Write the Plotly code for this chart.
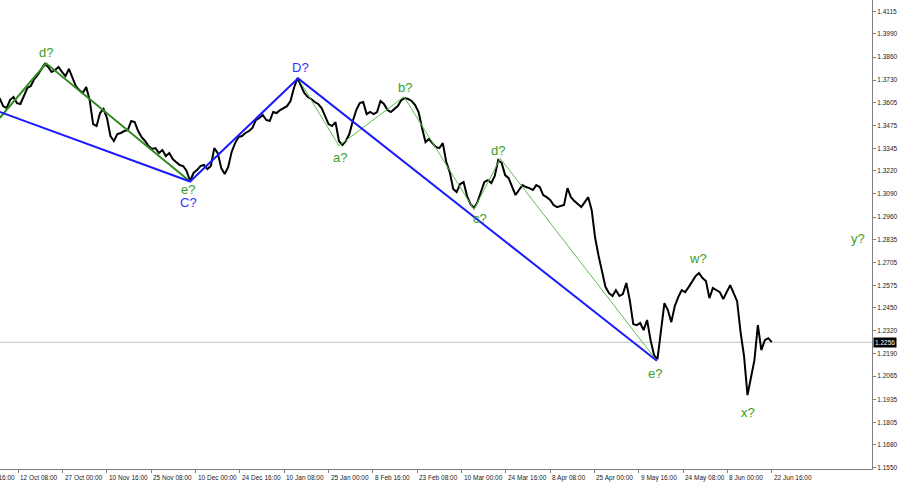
import plotly.graph_objects as go

# ---------------- data ----------------
# GBP/USD, H4 chart. x is the H4 bar index (bar 0 = 27 Sep 16:00),
# one sampled value every 5 bars.
price_start_bar = 37
price_step_bars = 5
gbpusd = [
    1.3629, 1.3584, 1.3573, 1.3618, 1.3635, 1.3601, 1.3596, 1.3646, 1.3686, 1.3697,
    1.3736, 1.3759, 1.3793, 1.3821, 1.3804, 1.3776, 1.3787, 1.3804, 1.3776, 1.3753,
    1.3793, 1.3742, 1.3697, 1.3674, 1.3658, 1.3691, 1.3618, 1.3483, 1.3472, 1.3545,
    1.3568, 1.3517, 1.3416, 1.3388, 1.3427, 1.3433, 1.3444, 1.3449, 1.3500, 1.3494,
    1.3444, 1.3410, 1.3388, 1.3359, 1.3343, 1.3348, 1.3320, 1.3337, 1.3303, 1.3320,
    1.3286, 1.3269, 1.3253, 1.3247, 1.3219, 1.3163, 1.3208, 1.3224, 1.3247, 1.3253,
    1.3230, 1.3247, 1.3348, 1.3320, 1.3236, 1.3202, 1.3241, 1.3326, 1.3376, 1.3410,
    1.3416, 1.3433, 1.3444, 1.3461, 1.3506, 1.3517, 1.3534, 1.3506, 1.3500, 1.3551,
    1.3545, 1.3562, 1.3573, 1.3584, 1.3613, 1.3686, 1.3742, 1.3697, 1.3658, 1.3635,
    1.3624, 1.3607, 1.3596, 1.3573, 1.3528, 1.3483, 1.3472, 1.3494, 1.3388, 1.3365,
    1.3388, 1.3427, 1.3500, 1.3562, 1.3601, 1.3607, 1.3539, 1.3551, 1.3539, 1.3551,
    1.3613, 1.3596, 1.3562, 1.3551, 1.3568, 1.3584, 1.3618, 1.3629, 1.3624, 1.3613,
    1.3590, 1.3551, 1.3461, 1.3382, 1.3399, 1.3376, 1.3354, 1.3348, 1.3376, 1.3269,
    1.3213, 1.3118, 1.3101, 1.3146, 1.3157, 1.3078, 1.3033, 1.3011, 1.3044, 1.3101,
    1.3157, 1.3168, 1.3151, 1.3191, 1.3281, 1.3264, 1.3196, 1.3179, 1.3129, 1.3084,
    1.3112, 1.3140, 1.3129, 1.3123, 1.3112, 1.3140, 1.3129, 1.3084, 1.3072, 1.3056,
    1.3028, 1.3016, 1.3022, 1.3028, 1.3123, 1.3072, 1.3050, 1.3033, 1.3016, 1.3044,
    1.3072, 1.2999, 1.2842, 1.2741, 1.2650, 1.2566, 1.2532, 1.2516, 1.2549, 1.2516,
    1.2527, 1.2589, 1.2493, 1.2358, 1.2352, 1.2364, 1.2324, 1.2381, 1.2268, 1.2184,
    1.2161, 1.2307, 1.2476, 1.2437, 1.2369, 1.2459, 1.2510, 1.2549, 1.2538, 1.2566,
    1.2594, 1.2628, 1.2645, 1.2617, 1.2600, 1.2504, 1.2561, 1.2549, 1.2538, 1.2499,
    1.2538, 1.2577, 1.2532, 1.2487, 1.2313, 1.2178, 1.1959, 1.2054, 1.2155, 1.2352,
    1.2212, 1.2268, 1.2279, 1.2257,
]

bid_price = 1.2256

x_tick_labels = [
    "27 Sep 16:00", "12 Oct 08:00", "27 Oct 00:00", "10 Nov 16:00", "25 Nov 08:00",
    "10 Dec 00:00", "24 Dec 16:00", "10 Jan 08:00", "25 Jan 00:00", "8 Feb 16:00",
    "23 Feb 08:00", "10 Mar 00:00", "24 Mar 16:00", "8 Apr 08:00", "25 Apr 00:00",
    "9 May 16:00", "24 May 08:00", "8 Jun 00:00", "22 Jun 16:00",
]
bars_per_x_tick = 64

y_tick_labels = [
    "1.4115", "1.3990", "1.3860", "1.3730", "1.3605", "1.3475", "1.3345",
    "1.3220", "1.3090", "1.2960", "1.2835", "1.2705", "1.2575", "1.2450",
    "1.2320", "1.2190", "1.2065", "1.1935", "1.1805", "1.1680", "1.1550",
]

# wave mark-up pivots (bar index, price)
blue_bars = [37, 312, 468, 986]
blue_prices = [1.3552, 1.3160, 1.3740, 1.2152]
dkgreen_bars = [37, 104, 312]
dkgreen_prices = [1.3517, 1.3825, 1.3160]
ltgreen_bars = [468, 527, 621, 722, 760, 986]
ltgreen_prices = [1.3740, 1.3361, 1.3637, 1.3003, 1.3290, 1.2152]
# w?, x? and y? points
extra_bars = [1045, 1119, 1276]
extra_prices = [1.2650, 1.1959, 1.2842]

# ---------------- figure ----------------
BLUE = "#1a1aff"
DKGREEN = "#2e8b1e"
LTGREEN = "#5cbf4e"
TXTGREEN = "#38a028"
TXTBLUE = "#3030ff"
FONT = "Liberation Sans"
AXFONT = dict(family=FONT, size=6.5, color="#222")
X_RANGE = [37.5, 1296.8]

price_bars = [price_start_bar + price_step_bars * i for i in range(len(gbpusd))]

fig = go.Figure()
fig.add_trace(go.Scatter(x=price_bars, y=gbpusd, mode="lines",
                         line=dict(color="black", width=2), hoverinfo="skip"))
fig.add_trace(go.Scatter(x=dkgreen_bars, y=dkgreen_prices, mode="lines",
                         line=dict(color=DKGREEN, width=2), hoverinfo="skip"))
fig.add_trace(go.Scatter(x=ltgreen_bars, y=ltgreen_prices, mode="lines",
                         line=dict(color=LTGREEN, width=1), hoverinfo="skip"))
fig.add_trace(go.Scatter(x=blue_bars, y=blue_prices, mode="lines",
                         line=dict(color=BLUE, width=2), hoverinfo="skip"))

fig.add_hline(y=bid_price, line=dict(color="#c0c0c0", width=1), layer="below")

labels = [
    ("d?", dkgreen_bars[1], dkgreen_prices[1], 0, 11, TXTGREEN),
    ("e?", dkgreen_bars[2], dkgreen_prices[2], -2, -8, TXTGREEN),
    ("C?", blue_bars[1], blue_prices[1], -2, -21, TXTBLUE),
    ("D?", blue_bars[2], blue_prices[2], 2, 11, TXTBLUE),
    ("a?", ltgreen_bars[1], ltgreen_prices[1], 1, -12, TXTGREEN),
    ("b?", ltgreen_bars[2], ltgreen_prices[2], 1, 9, TXTGREEN),
    ("c?", ltgreen_bars[3], ltgreen_prices[3], 6, -9, TXTGREEN),
    ("d?", ltgreen_bars[4], ltgreen_prices[4], -2, 8, TXTGREEN),
    ("e?", ltgreen_bars[5], ltgreen_prices[5], -2, -13, TXTGREEN),
    ("w?", extra_bars[0], extra_prices[0], 0, 14, TXTGREEN),
    ("x?", extra_bars[1], extra_prices[1], -1, -17, TXTGREEN),
    ("y?", extra_bars[2], extra_prices[2], 0, 0, TXTGREEN),
]
for txt, bx, py, dx, dy, col in labels:
    fig.add_annotation(x=bx, y=py, text=txt, showarrow=False, xshift=dx, yshift=dy,
                       xanchor="center", yanchor="middle",
                       font=dict(family=FONT, size=13, color=col))

# bid price tag on the price axis
fig.add_annotation(xref="paper", x=1, y=bid_price, text=f"{bid_price:.4f}",
                   showarrow=False, xanchor="left", yanchor="middle", xshift=1,
                   bgcolor="black", borderpad=1,
                   font=dict(family=FONT, size=6.5, color="white"))

x_tick_vals = [bars_per_x_tick * k for k in range(len(x_tick_labels))]
# x-axis labels drawn left-aligned to their tick, like the terminal does
for tv, tl in zip(x_tick_vals, x_tick_labels):
    fig.add_annotation(xref="paper", x=(tv - X_RANGE[0]) / (X_RANGE[1] - X_RANGE[0]),
                       yref="paper", y=0, text=tl, showarrow=False,
                       xanchor="left", yanchor="top", yshift=-3,
                       font=AXFONT)

fig.update_layout(
    width=900, height=485,
    margin=dict(l=0, r=28, t=0, b=16, autoexpand=False),
    paper_bgcolor="white", plot_bgcolor="white",
    showlegend=False,
    xaxis=dict(range=X_RANGE, showgrid=False, zeroline=False,
               showline=True, linecolor="#808080", linewidth=1,
               ticks="outside", ticklen=3, tickcolor="#808080",
               tickvals=x_tick_vals, showticklabels=False, automargin=False),
    yaxis=dict(side="right", range=[1.1543, 1.4181], showgrid=False, zeroline=False,
               showline=True, linecolor="#808080", linewidth=1,
               ticks="outside", ticklen=3, tickcolor="#808080",
               tickvals=[float(t) for t in y_tick_labels], ticktext=y_tick_labels,
               tickangle=0, automargin=False, ticklabeloverflow="allow",
               tickfont=AXFONT),
)

fig.write_html(
    "out.html",
    config={"responsive": False, "displayModeBar": False},
    post_script="document.body.style.margin='0';document.body.style.padding='0';",
)
